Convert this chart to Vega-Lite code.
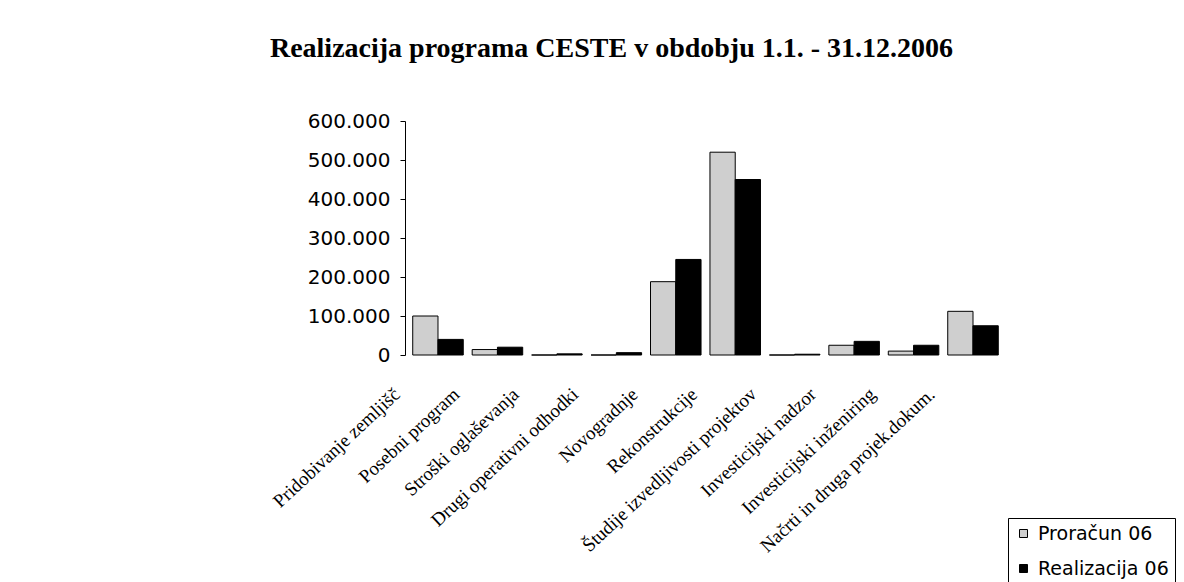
{
  "$schema": "https://vega.github.io/schema/vega-lite/v6.json",
  "autosize": {"type": "none"},
  "padding": {"left": 405, "top": 121, "right": 178, "bottom": 227},
  "width": 601,
  "height": 234,
  "background": "white",
  "title": {
    "text": "Realizacija programa CESTE v obdobju 1.1. - 31.12.2006",
    "font": "Liberation Serif",
    "fontSize": 28,
    "fontWeight": "bold",
    "color": "black",
    "anchor": "middle",
    "frame": "group",
    "dx": -94,
    "offset": 48
  },
  "data": {
    "values": [
      {"kategorija": "Pridobivanje zemljišč", "serija": "Proračun 06", "vrednost": 100000},
      {"kategorija": "Pridobivanje zemljišč", "serija": "Realizacija 06", "vrednost": 40000},
      {"kategorija": "Posebni program", "serija": "Proračun 06", "vrednost": 14000},
      {"kategorija": "Posebni program", "serija": "Realizacija 06", "vrednost": 20000},
      {"kategorija": "Stroški oglaševanja", "serija": "Proračun 06", "vrednost": 0},
      {"kategorija": "Stroški oglaševanja", "serija": "Realizacija 06", "vrednost": 3000},
      {"kategorija": "Drugi operativni odhodki", "serija": "Proračun 06", "vrednost": 0},
      {"kategorija": "Drugi operativni odhodki", "serija": "Realizacija 06", "vrednost": 6000},
      {"kategorija": "Novogradnje", "serija": "Proračun 06", "vrednost": 188000},
      {"kategorija": "Novogradnje", "serija": "Realizacija 06", "vrednost": 245000},
      {"kategorija": "Rekonstrukcije", "serija": "Proračun 06", "vrednost": 520000},
      {"kategorija": "Rekonstrukcije", "serija": "Realizacija 06", "vrednost": 450000},
      {"kategorija": "Študije izvedljivosti projektov", "serija": "Proračun 06", "vrednost": 0},
      {"kategorija": "Študije izvedljivosti projektov", "serija": "Realizacija 06", "vrednost": 2000},
      {"kategorija": "Investicijski nadzor", "serija": "Proračun 06", "vrednost": 25000},
      {"kategorija": "Investicijski nadzor", "serija": "Realizacija 06", "vrednost": 35000},
      {"kategorija": "Investicijski inženiring", "serija": "Proračun 06", "vrednost": 10000},
      {"kategorija": "Investicijski inženiring", "serija": "Realizacija 06", "vrednost": 25000},
      {"kategorija": "Načrti in druga projek.dokum.", "serija": "Proračun 06", "vrednost": 112000},
      {"kategorija": "Načrti in druga projek.dokum.", "serija": "Realizacija 06", "vrednost": 75000}
    ]
  },
  "mark": {"type": "bar", "stroke": "black", "strokeWidth": 1},
  "encoding": {
    "x": {
      "field": "kategorija",
      "type": "nominal",
      "sort": null,
      "scale": {"paddingInner": 0.15, "paddingOuter": 0.13},
      "axis": {
        "title": null,
        "domain": false,
        "ticks": false,
        "labelAngle": -43,
        "labelAlign": "right",
        "labelBaseline": "middle",
        "labelPadding": 36,
        "labelOffset": -41,
        "labelFont": "Liberation Serif",
        "labelFontSize": 19,
        "labelColor": "black",
        "labelLimit": 0
      }
    },
    "xOffset": {
      "field": "serija",
      "type": "nominal",
      "scale": {"domain": ["Proračun 06", "Realizacija 06"], "paddingInner": 0}
    },
    "y": {
      "field": "vrednost",
      "type": "quantitative",
      "scale": {"domain": [0, 600000], "nice": false},
      "axis": {
        "title": null,
        "values": [0, 100000, 200000, 300000, 400000, 500000, 600000],
        "labelExpr": "replace(format(datum.value, ','), ',', '.')",
        "grid": false,
        "domainColor": "black",
        "tickColor": "black",
        "tickSize": 5,
        "labelPadding": 10,
        "labelFont": "DejaVu Sans",
        "labelFontSize": 20,
        "labelColor": "black"
      }
    },
    "color": {
      "field": "serija",
      "type": "nominal",
      "scale": {"domain": ["Proračun 06", "Realizacija 06"], "range": ["#cfcfcf", "#000000"]},
      "legend": {
        "title": null,
        "orient": "none",
        "legendX": 603,
        "legendY": 397,
        "direction": "vertical",
        "strokeColor": "black",
        "fillColor": "white",
        "padding": 6,
        "symbolType": "square",
        "symbolSize": 64,
        "symbolStrokeColor": "black",
        "symbolStrokeWidth": 1,
        "labelOffset": 5,
        "labelFont": "DejaVu Sans",
        "labelFontSize": 19,
        "labelColor": "black",
        "rowPadding": 15
      }
    }
  },
  "config": {"view": {"stroke": null}}
}
